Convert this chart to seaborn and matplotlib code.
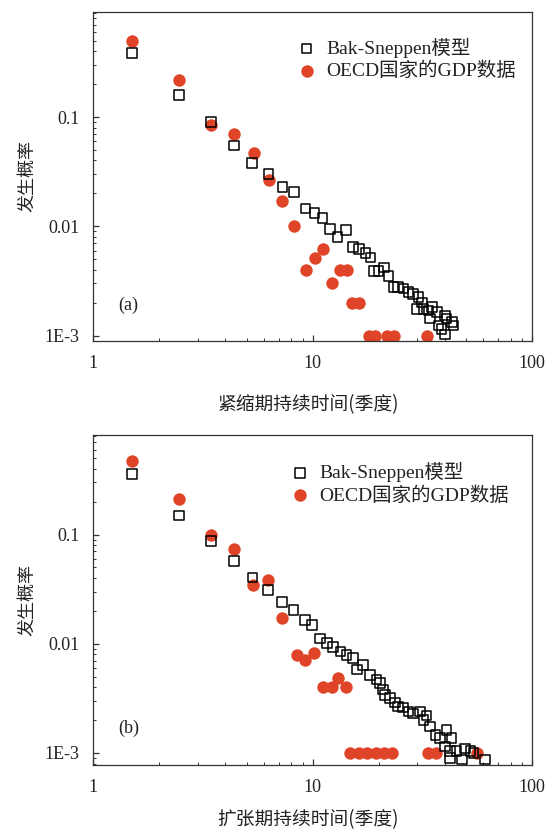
import matplotlib
matplotlib.use('Agg')
import matplotlib.pyplot as plt
import seaborn as sns
import pandas as pd
from matplotlib.ticker import LogLocator, NullFormatter

# panel (a): contraction periods
bs_a_x = [1.5, 2.46, 3.43, 4.39, 5.3, 6.3, 7.3, 8.2, 9.3, 10.2, 11.1, 12.0, 13.0, 14.2,
          15.3, 16.3, 17.4, 18.4, 19.1, 20.0, 21.2, 22.2, 23.4, 24.6, 26.0, 27.4, 28.8,
          30.4, 31.5, 29.9, 32.0, 33.8, 35.0, 36.9, 34.4, 37.5, 40.2, 40.9, 43.2, 43.9,
          40.2, 38.8]
bs_a_y = [0.385, 0.158, 0.090, 0.055, 0.038, 0.030, 0.023, 0.0206, 0.0145, 0.0133, 0.0119,
          0.0095, 0.0080, 0.0092, 0.0065, 0.0062, 0.0057, 0.0052, 0.0039, 0.0039, 0.0042,
          0.0035, 0.0028, 0.0028, 0.0027, 0.0025, 0.0024, 0.00225, 0.0020, 0.00176, 0.00176,
          0.0017, 0.00182, 0.00164, 0.00143, 0.00124, 0.00153, 0.00143, 0.00133, 0.00124,
          0.00102, 0.00115]
oecd_a_x = [1.5, 2.46, 3.43, 4.39, 5.38, 6.3, 7.28, 8.2, 9.3, 10.3, 11.2, 12.2, 13.3, 14.3,
            15.1, 16.2, 18.0, 19.3, 21.8, 23.4, 33.3]
oecd_a_y = [0.497, 0.22, 0.084, 0.070, 0.047, 0.0263, 0.017, 0.010, 0.0040, 0.0051, 0.0062,
            0.0030, 0.0040, 0.0040, 0.0020, 0.0020, 0.001, 0.001, 0.001, 0.001, 0.001]

# panel (b): expansion periods
bs_b_x = [1.5, 2.46, 3.43, 4.39, 5.33, 6.28, 7.24, 8.17, 9.24, 9.93, 10.8, 11.6, 12.4, 13.4,
          14.3, 15.3, 15.9, 17.0, 18.3, 19.6, 20.3, 21.0, 21.4, 22.6, 23.7, 24.6, 25.9,
          27.4, 28.8, 31.0, 32.0, 33.1, 34.4, 36.3, 38.2, 40.9, 43.1, 40.2, 42.4, 45.3,
          49.7, 52.5, 42.4, 47.9, 54.3, 61.2]
bs_b_y = [0.36, 0.150, 0.0875, 0.0575, 0.0405, 0.031, 0.0242, 0.0204, 0.0165, 0.0149, 0.0112,
          0.0101, 0.0094, 0.0085, 0.0079, 0.0074, 0.0058, 0.0064, 0.0052, 0.0047, 0.0044,
          0.0038, 0.0034, 0.0032, 0.0029, 0.00267, 0.0026, 0.0024, 0.0023, 0.0024, 0.0020,
          0.0022, 0.00175, 0.00147, 0.00137, 0.00163, 0.00137, 0.00115, 0.00104, 0.00104,
          0.0011, 0.00104, 0.0009, 0.00087, 0.0010, 0.00087]
oecd_b_x = [1.5, 2.46, 3.43, 4.39, 5.33, 6.28, 7.24, 8.47, 9.25, 10.1, 11.2, 12.2, 13.1, 14.2,
            14.8, 16.3, 17.8, 19.4, 21.2, 23.0, 33.5, 36.6, 56.1]
oecd_b_y = [0.468, 0.21, 0.10, 0.0735, 0.0344, 0.0383, 0.0171, 0.0079, 0.0071, 0.0082, 0.0040,
            0.0040, 0.0049, 0.0040, 0.001, 0.001, 0.001, 0.001, 0.001, 0.001, 0.001, 0.001,
            0.001]

legend_labels = ['Bak-Sneppen模型', 'OECD国家的GDP数据']
x_ticks = [1, 10, 100]
x_ticklabels = ['1', '10', '100']
y_ticks = [1e-3, 1e-2, 1e-1]
y_ticklabels = ['1E-3', '0.01', '0.1']

sns.set_style('ticks')
plt.rcParams['font.family'] = ['Liberation Serif', 'Noto Sans CJK SC']
plt.rcParams['axes.edgecolor'] = '#333333'
plt.rcParams['axes.linewidth'] = 0.9

RED = '#e04428'
INK = '#222222'


def panel(ax, bx, by, ox, oy, ylim, tag, xlabel, xlabel_y, leg_anchor):
    sns.scatterplot(x=bx, y=by, ax=ax, marker='s', s=48, facecolors='none',
                    edgecolor='black', linewidth=1.1, label=legend_labels[0], zorder=3)
    sns.scatterplot(x=ox, y=oy, ax=ax, marker='o', s=80, color=RED,
                    edgecolor=RED, linewidth=0, label=legend_labels[1], zorder=2)
    ax.set_xscale('log')
    ax.set_yscale('log')
    ax.set_xlim(1, 100)
    ax.set_ylim(*ylim)
    ax.set_xticks(x_ticks)
    ax.set_xticklabels(x_ticklabels)
    ax.set_yticks(y_ticks)
    ax.set_yticklabels(y_ticklabels)
    ax.xaxis.set_minor_locator(LogLocator(base=10, subs=range(2, 10)))
    ax.yaxis.set_minor_locator(LogLocator(base=10, subs=range(2, 10)))
    ax.xaxis.set_minor_formatter(NullFormatter())
    ax.yaxis.set_minor_formatter(NullFormatter())
    ax.tick_params(which='both', direction='in', top=False, right=False,
                   labelsize=13, color='#333333', labelcolor=INK)
    ax.tick_params(which='major', length=4.5, width=0.9, pad=10)
    ax.tick_params(which='minor', length=2.3, width=0.7)
    ax.set_xlabel(xlabel, fontsize=13.5, family=['Noto Sans CJK SC'], color=INK)
    ax.xaxis.set_label_coords(0.49, xlabel_y)
    ax.set_ylabel('发生概率', fontsize=13, family=['Noto Sans CJK SC'], color=INK)
    ax.yaxis.set_label_coords(-0.131, 0.5)
    ax.text(0.08, 0.11, tag, transform=ax.transAxes, fontsize=13, ha='center',
            va='center', color=INK)
    leg = ax.legend(loc='upper right', bbox_to_anchor=leg_anchor, frameon=False, fontsize=14,
                    handlelength=1.0, handletextpad=0.5, labelspacing=0.2, borderaxespad=0.0)
    for t in leg.get_texts():
        t.set_color(INK)


fig = plt.figure(figsize=(5.46, 8.34), dpi=100)
ax_a = fig.add_axes([0.171, 0.591, 0.803, 0.395])
ax_b = fig.add_axes([0.171, 0.083, 0.803, 0.395])

panel(ax_a, bs_a_x, bs_a_y, oecd_a_x, oecd_a_y, (0.00089, 0.92), '(a)',
      '紧缩期持续时间(季度)', -0.16, (0.981, 0.945))
panel(ax_b, bs_b_x, bs_b_y, oecd_b_x, oecd_b_y, (0.00078, 0.81), '(b)',
      '扩张期持续时间(季度)', -0.135, (0.966, 0.942))

fig.savefig('out.png', dpi=100)
